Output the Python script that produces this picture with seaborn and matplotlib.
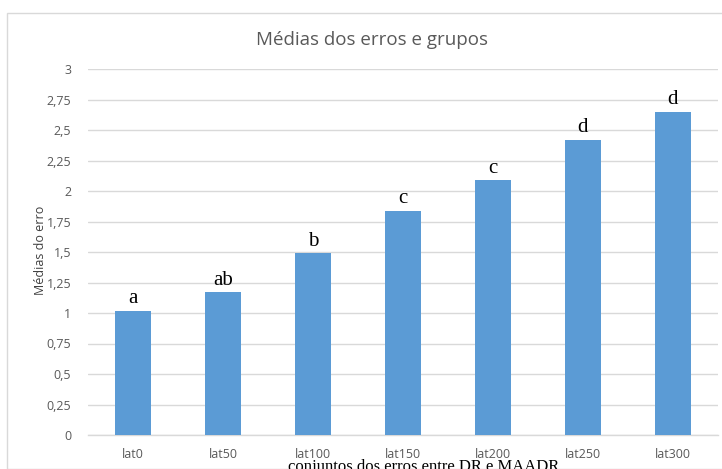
import matplotlib
matplotlib.use("Agg")
import matplotlib.pyplot as plt
import seaborn as sns
import pandas as pd
from matplotlib.patches import Rectangle
from matplotlib.ticker import FixedLocator

categorias = ["lat0", "lat50", "lat100", "lat150", "lat200", "lat250", "lat300"]
medias = [1.02, 1.17, 1.49, 1.84, 2.09, 2.42, 2.65]
grupos = ["a", "ab", "b", "c", "c", "d", "d"]
yticks = [0, 0.25, 0.5, 0.75, 1, 1.25, 1.5, 1.75, 2, 2.25, 2.5, 2.75, 3]

sns.set_theme(style="white")
plt.rcParams["font.family"] = ["Open Sans", "DejaVu Sans"]

W, H = 722, 469
fig = plt.figure(figsize=(W / 100, H / 100), dpi=100)
fig.patch.set_facecolor("white")

# chart frame
fig.patches.append(Rectangle((7 / W, 0), 1.2, 1 - 13 / H, transform=fig.transFigure,
                             fill=False, edgecolor="#D9D9D9", linewidth=1.0, zorder=0))

ax = fig.add_axes([88 / W, 1 - 435 / H, (718 - 88) / W, (435 - 69) / H])
df = pd.DataFrame({"grupo": categorias, "media": medias})
sns.barplot(data=df, x="grupo", y="media", color="#5B9BD5", saturation=1,
            width=0.41, edgecolor="none", ax=ax, zorder=3)

ax.set_ylim(0, 3)
ax.set_xlim(-0.5, len(categorias) - 0.5)
ax.yaxis.set_major_locator(FixedLocator(yticks))
ax.set_yticklabels([f"{v:g}".replace(".", ",") for v in yticks])
ax.grid(axis="y", color="#D9D9D9", linewidth=1.0, zorder=0)
ax.set_axisbelow(True)
for s in ["top", "right", "left"]:
    ax.spines[s].set_visible(False)
ax.spines["bottom"].set_color("#D9D9D9")
ax.spines["bottom"].set_linewidth(1.0)
ax.tick_params(axis="both", length=0, labelsize=9, colors="#595959")
ax.tick_params(axis="y", pad=12)
ax.tick_params(axis="x", pad=9)
ax.set_xlabel("")
ax.set_ylabel("")

for i, (v, g) in enumerate(zip(medias, grupos)):
    ax.text(i, v + 0.02, g, ha="center", va="bottom", fontsize=15,
            family="Liberation Serif", color="black")

fig.text(372 / W, 1 - 40 / H, "Médias dos erros e grupos", ha="center", va="center",
         fontsize=13.5, color="#595959")
fig.text(40 / W, 1 - 250 / H, "Médias do erro", ha="center", va="center",
         rotation=90, fontsize=9, color="#404040")
fig.text(424 / W, 1 - 471 / H, "conjuntos dos erros entre DR e MAADR", ha="center",
         va="baseline", fontsize=12, family="Liberation Serif", color="black")

fig.savefig("out.png", dpi=100)
